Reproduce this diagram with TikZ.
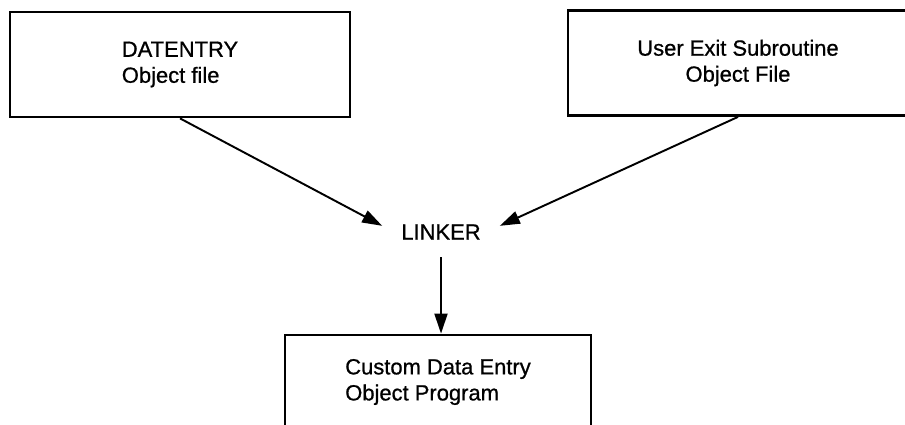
\documentclass[tikz,border=0pt]{standalone}
\usepackage{fontspec}
\setmainfont{Liberation Sans}
\newfontfamily\scanfont{Liberation Sans}[FakeBold=0.8]
\usetikzlibrary{arrows.meta}
\tikzset{
	filebox/.style={draw, line width=1.6pt, minimum width=6.8cm, minimum height=2.1cm, font=\scanfont\fontsize{12.5}{14.8}\selectfont},
	linkarrow/.style={line width=1.1pt, -{Triangle[length=4mm, width=2.6mm]}}
}

\begin{document}
\begin{tikzpicture}[x=0.02cm, y=-0.02cm]
		%%%%% START %%%%%
		
		\clip (0, 0) rectangle (905, 425);
		
		\node[filebox, align=left] (datentry) at (180, 64.5) {DATENTRY\\Object file};
		\node[filebox, align=center] (userexit) at (738, 63) {User Exit Subroutine\\Object File};
		
		\node[font=\scanfont\fontsize{12.5}{14.8}\selectfont, minimum width=2.34cm, minimum height=1cm] (linker) at (441, 232) {LINKER};
		
		\node[filebox, align=left, minimum width=6.12cm, minimum height=1.88cm] (program) at (438, 382) {Custom Data Entry\\Object Program};
		
		\draw[linkarrow] (datentry.south) -- (linker.174);
		\draw[linkarrow] (userexit.south) -- (linker.6);
		\draw[linkarrow] (linker.south) -- (linker.south |- program.north);
		
		%%%%% END %%%%%
\end{tikzpicture}
\end{document}
